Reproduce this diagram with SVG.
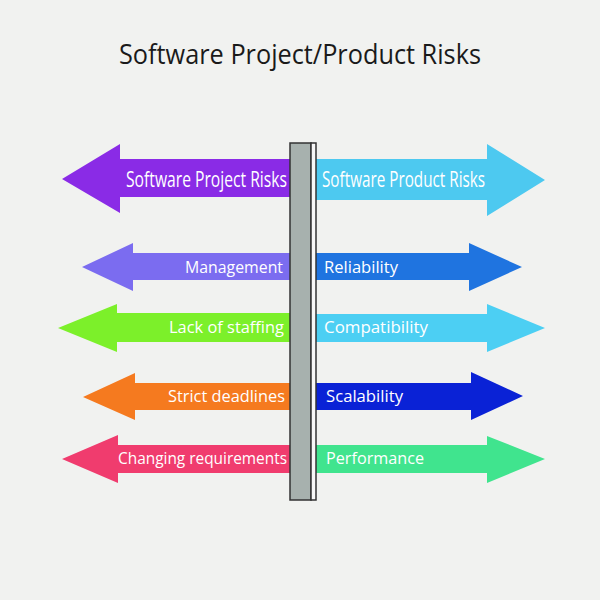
<svg xmlns="http://www.w3.org/2000/svg" width="600" height="600" viewBox="0 0 600 600">
<style>
.t{font-family:"Open Sans","Liberation Sans",sans-serif;fill:#ffffff;}
.title{font-family:"Open Sans","Liberation Sans",sans-serif;fill:#1a1a1a;font-size:27px;}
</style>
<rect width="600" height="600" fill="#f1f2f0"/>
<text class="title" x="300" y="64" text-anchor="middle" textLength="362" lengthAdjust="spacingAndGlyphs">Software Project/Product Risks</text>
<g id="connectors">
<g id="arrow-project">
<path d="M62,179 L120,144 L120,159 L292,159 L292,197 L120,197 L120,213 Z" fill="#8a2be6"/>
<text class="t" transform="translate(126,187) scale(0.7,1)" x="0" y="0" font-size="22" textLength="230" lengthAdjust="spacingAndGlyphs">Software  Project Risks</text>
</g>
<g id="arrow-product">
<path d="M545,180 L487,144 L487,159 L312,159 L312,200 L487,200 L487,216 Z" fill="#4dc9f0"/>
<text class="t" transform="translate(322,187) scale(0.7,1)" x="0" y="0" font-size="22" textLength="233" lengthAdjust="spacingAndGlyphs">Software Product Risks</text>
</g>
<g id="arrow-management">
<path d="M82,267 L133,243 L133,253 L292,253 L292,280 L133,280 L133,291 Z" fill="#7b6cf0"/>
<text class="t" x="185" y="273" font-size="17" textLength="98" lengthAdjust="spacingAndGlyphs">Management</text>
</g>
<g id="arrow-reliability">
<path d="M522,267 L469,243 L469,253 L312,253 L312,280 L469,280 L469,291 Z" fill="#1f74e0"/>
<text class="t" x="324" y="273" font-size="17" textLength="74" lengthAdjust="spacingAndGlyphs">Reliability</text>
</g>
<g id="arrow-staffing">
<path d="M58,328 L117,304 L117,313 L292,313 L292,342 L117,342 L117,352 Z" fill="#7cf02a"/>
<text class="t" x="169" y="333" font-size="17" textLength="115" lengthAdjust="spacingAndGlyphs">Lack of staffing</text>
</g>
<g id="arrow-compatibility">
<path d="M545,328 L487,304 L487,314 L312,314 L312,342 L487,342 L487,352 Z" fill="#4ccff3"/>
<text class="t" x="324" y="333" font-size="17" textLength="104" lengthAdjust="spacingAndGlyphs">Compatibility</text>
</g>
<g id="arrow-deadlines">
<path d="M83,397 L135,373 L135,383 L292,383 L292,410 L135,410 L135,420 Z" fill="#f57a1f"/>
<text class="t" x="168" y="402" font-size="17" textLength="117" lengthAdjust="spacingAndGlyphs">Strict deadlines</text>
</g>
<g id="arrow-scalability">
<path d="M523,396 L471,372 L471,383 L312,383 L312,410 L471,410 L471,420 Z" fill="#0a22d6"/>
<text class="t" x="326" y="402" font-size="17" textLength="77" lengthAdjust="spacingAndGlyphs">Scalability</text>
</g>
<g id="arrow-requirements">
<path d="M62,459 L118,435 L118,445 L292,445 L292,473 L118,473 L118,483 Z" fill="#f03c6e"/>
<text class="t" x="118" y="464" font-size="17" textLength="169" lengthAdjust="spacingAndGlyphs">Changing requirements</text>
</g>
<g id="arrow-performance">
<path d="M545,459 L487,436 L487,445 L312,445 L312,473 L487,473 L487,483 Z" fill="#40e48e"/>
<text class="t" x="326" y="464" font-size="17" textLength="98" lengthAdjust="spacingAndGlyphs">Performance</text>
</g>
</g>
<g id="pillar">
<rect x="290" y="143" width="21" height="357" fill="#a7b1ae" stroke="#333" stroke-width="1.5"/>
<rect x="311" y="143" width="5" height="357" fill="#f7f7f7" stroke="#333" stroke-width="1.5"/>
</g>
</svg>
